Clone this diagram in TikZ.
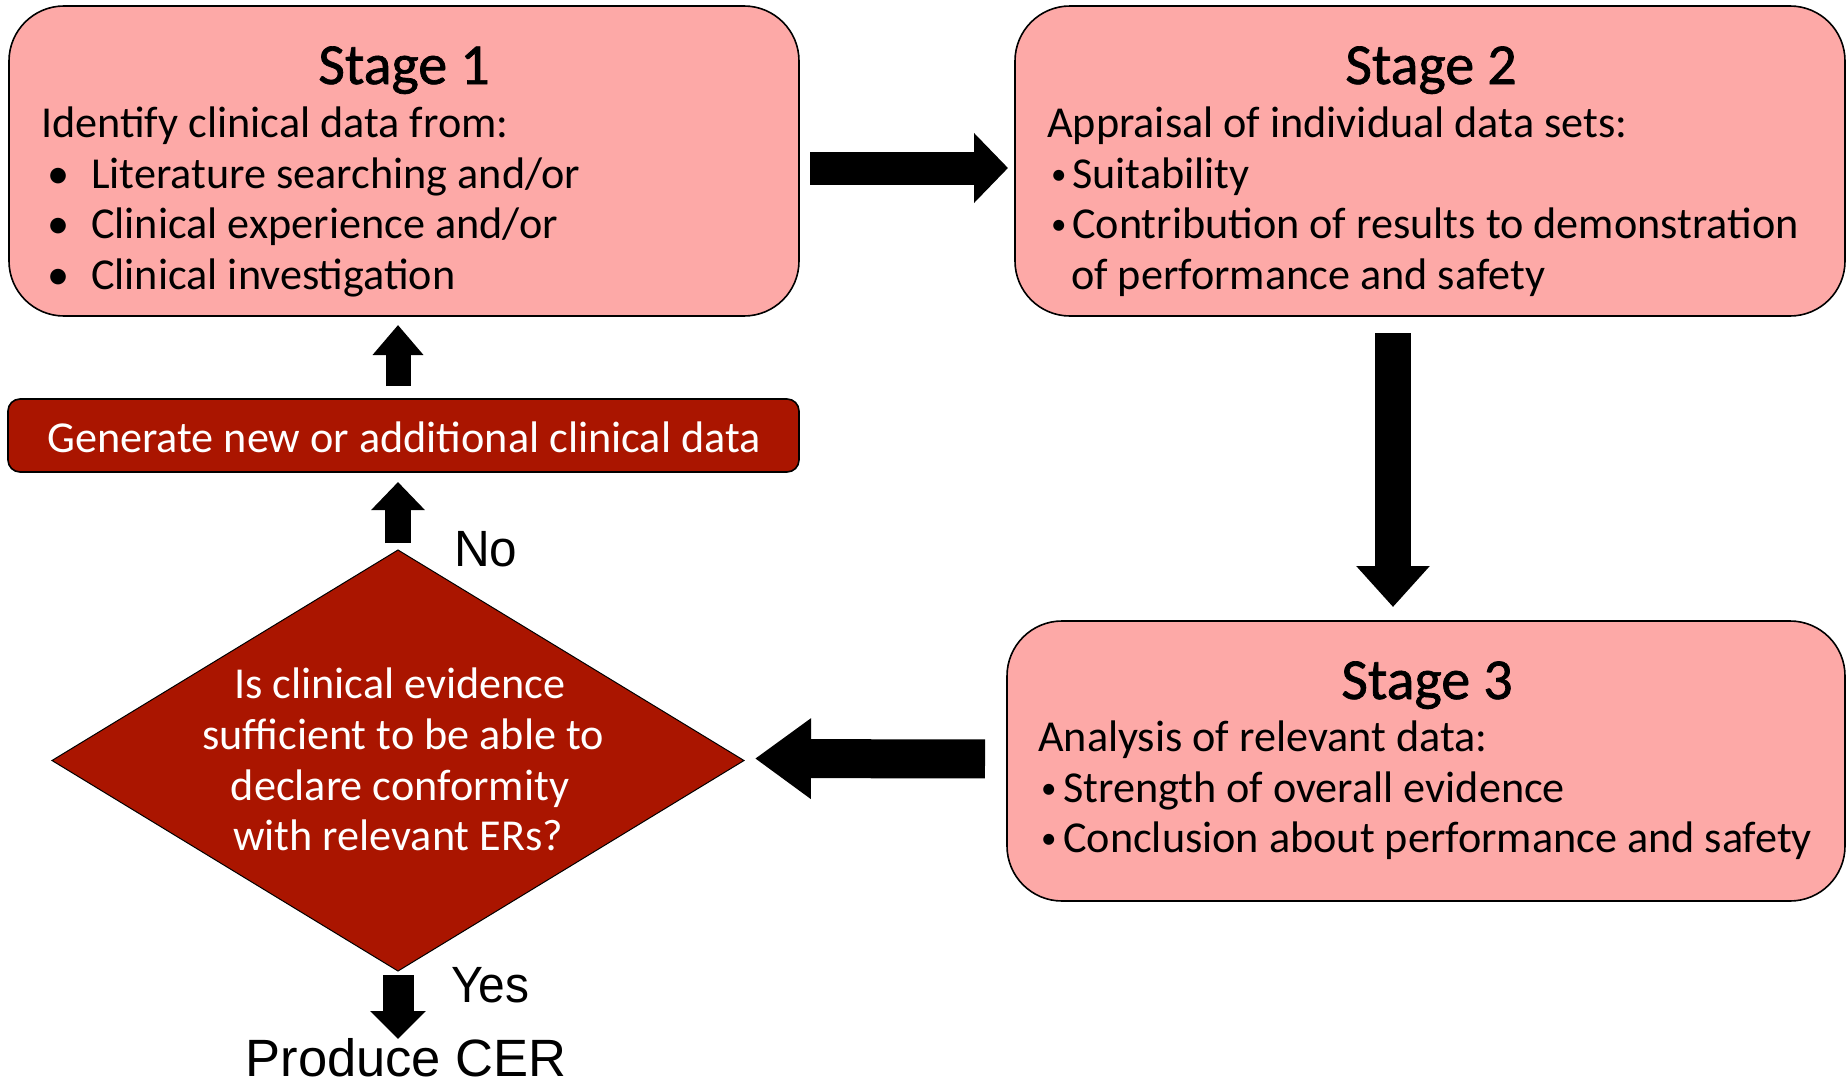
\documentclass[tikz,border=0pt]{standalone}
\usepackage{fontspec}
\usepackage{graphicx}
\setmainfont{Carlito}
\newfontfamily\arialf{Liberation Sans}
\newfontfamily\titlef[FakeBold=1.2]{Carlito}
\usetikzlibrary{shapes.geometric,arrows.meta}
\definecolor{pinkbox}{RGB}{253,169,167}
\definecolor{darkred}{RGB}{170,21,0}
\newcommand{\smbul}{\raisebox{4pt}{\scalebox{0.7}{\textbullet}}}
\begin{document}
\begin{tikzpicture}[x=1pt,y=-1pt,
 stagebox/.style={draw=black, line width=1.6pt, fill=pinkbox, rounded corners=55pt, inner sep=0pt, outer sep=0pt},
 genbox/.style={draw=black, line width=1.6pt, fill=darkred, rounded corners=12pt, inner sep=0pt, outer sep=0pt},
 decbox/.style={diamond, draw=black, line width=1pt, fill=darkred, inner sep=0pt, outer sep=0pt},
 title/.style={anchor=base, inner sep=0pt, font=\titlef\fontsize{58}{60}\selectfont},
 body/.style={anchor=base west, inner sep=0pt, font=\fontsize{44.2}{50}\selectfont},
 wbody/.style={anchor=base, inner sep=0pt, text=white, font=\fontsize{44.2}{50}\selectfont},
 lbl/.style={anchor=base west, inner sep=0pt, font=\arialf\fontsize{51}{54}\selectfont},
]
\useasboundingbox (0,0) rectangle (1847,1084);

% boxes
\node[stagebox, minimum width=790pt, minimum height=310pt] (s1) at (404,161) {};
\node[stagebox, minimum width=830pt, minimum height=310pt] (s2) at (1430,161) {};
\node[stagebox, minimum width=838pt, minimum height=280pt] (s3) at (1426,761) {};
\node[genbox, minimum width=791pt, minimum height=73pt] (gen) at (403.5,435.5) {};
\node[decbox, minimum width=692pt, minimum height=421pt] (dia) at (398,760.5) {};

% stage 1 text
\node[title] (t1) at (404,84) {Stage 1};
\node[body] (s1a) at (41,137) {Identify clinical data from:};
\node[body] (s1b) at (47,188) {\makebox[44pt][l]{\textbullet}Literature searching and/or};
\node[body] (s1c) at (47,238) {\makebox[44pt][l]{\textbullet}Clinical experience and/or};
\node[body] (s1d) at (47,289) {\makebox[44pt][l]{\textbullet}Clinical investigation};

% stage 2 text
\node[title] (t2) at (1431,84) {Stage 2};
\node[body] (s2a) at (1047,137) {Appraisal of individual data sets:};
\node[body] (s2b) at (1051,188) {\makebox[21pt][l]{\smbul}Suitability};
\node[body] (s2c) at (1051,238) {\makebox[21pt][l]{\smbul}Contribution of results to demonstration};
\node[body] (s2d) at (1071,289) {of performance and safety};

% stage 3 text
\node[title] (t3) at (1427,699) {Stage 3};
\node[body] (s3a) at (1038,751) {Analysis of relevant data:};
\node[body] (s3b) at (1041,802) {\makebox[22pt][l]{\smbul}Strength of overall evidence};
\node[body] (s3c) at (1041,852) {\makebox[22pt][l]{\smbul}Conclusion about performance and safety};

% generate text
\node[wbody] (gent) at (404,452) {Generate new or additional clinical data};

% diamond text
\node[wbody] (d1) at (400,698) {Is clinical evidence};
\node[wbody] (d2) at (403,749) {sufficient to be able to};
\node[wbody] (d3) at (400,800) {declare conformity};
\node[wbody] (d4) at (398,850) {with relevant ERs?};

% labels
\node[lbl] (no) at (454,566) {\scalebox{0.97}[1]{No}};
\node[lbl] (yes) at (451,1002) {\scalebox{0.94}[1]{Yes}};
\node[lbl, anchor=base, font=\arialf\fontsize{52.5}{56}\selectfont] (cer) at (406,1076) {Produce CER};
\coordinate (certop) at (398,1039);
\coordinate (dx) at (1393,0);

% block arrows
\draw[line width=33pt, -{Triangle[length=34pt,width=68pt]}, shorten <=11pt, shorten >=7pt]
  ([yshift=-7pt]s1.east) -- ([yshift=-7pt]s2.west);
\draw[line width=36pt, -{Triangle[length=41pt,width=71pt]}, shorten <=17pt, shorten >=14pt]
  (s2.south -| dx) -- (s3.north -| dx);
\draw[line width=39pt, -{Triangle[length=56pt,width=77pt]}, shorten <=22pt, shorten >=11pt]
  ([yshift=2pt]s3.west) -- ([yshift=2pt]dia.east);
\draw[line width=25pt, -{Triangle[length=30pt,width=49pt]}, shorten <=13pt, shorten >=9pt]
  (gen.north -| dia.north) -- (s1.south -| dia.north);
\draw[line width=26pt, -{Triangle[length=28pt,width=52pt]}, shorten <=7pt, shorten >=10pt]
  (dia.north) -- (gen.south -| dia.north);
\draw[line width=31pt, -{Triangle[length=28pt,width=54pt]}, shorten <=4pt]
  (dia.south) -- (certop);
\end{tikzpicture}
\end{document}
